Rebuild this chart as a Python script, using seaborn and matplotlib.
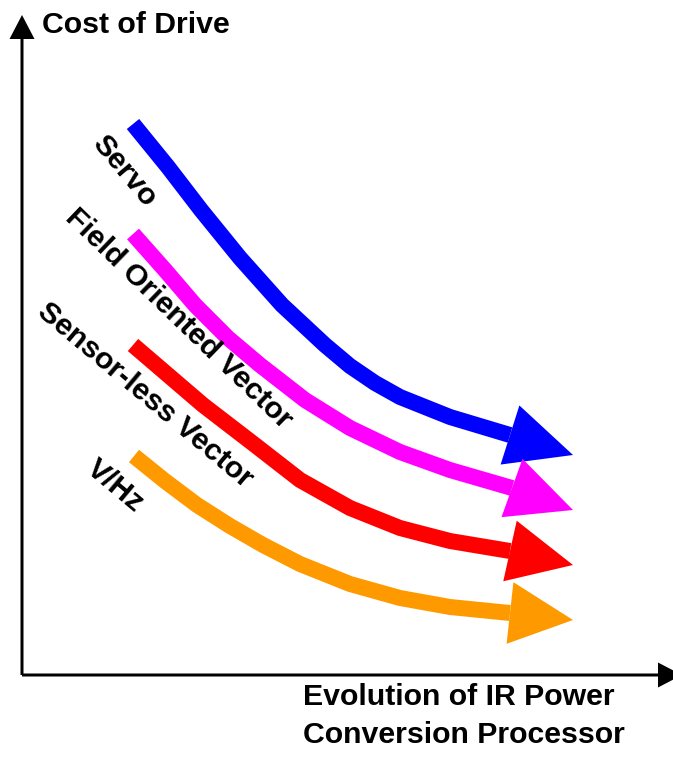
import numpy as np
import seaborn as sns
import matplotlib.pyplot as plt

# curve centre lines (units: pixels from the origin)
servo_x = [111, 146, 179, 218, 260, 303, 328, 353, 378, 428, 488]
servo_y = [551, 508, 465, 417, 370, 330, 309, 292, 278, 258, 240]
field_x = [111, 143, 173, 206, 238, 283, 328, 378, 428, 490]
field_y = [441, 405, 370, 337, 310, 275, 247, 223, 205, 187]
sensorless_x = [111, 146, 181, 233, 278, 328, 378, 428, 488]
sensorless_y = [330, 300, 270, 230, 195, 167, 147, 134, 124]
vhz_x = [112, 143, 175, 208, 241, 278, 328, 378, 428, 488]
vhz_y = [219, 194, 170, 149, 130, 111, 91, 77, 68, 62]

# arrow tips
tip_x = [551, 551, 551, 551]
tip_y = [220, 165, 110, 55]

names = ['Servo', 'Field Oriented Vector', 'Sensor-less Vector', 'V/Hz']
colors = ['#0000FF', '#FF00FF', '#FF0000', '#FF9900']
label_x = [102, 157, 123, 93]
label_y = [504, 356, 280, 189]
label_rot = [-50, -44, -40, -40]

xs = [servo_x, field_x, sensorless_x, vhz_x]
ys = [servo_y, field_y, sensorless_y, vhz_y]

sns.set_style('white')
plt.rcParams['font.family'] = ['Liberation Sans', 'DejaVu Sans']

fig = plt.figure(figsize=(6.73, 7.59), dpi=100)
ax = fig.add_axes([22 / 673, 84 / 759, 651 / 673, 663 / 759])
ax.set_xlim(0, 651)
ax.set_ylim(0, 663)
ax.axis('off')

for x, y, c, tx, ty in zip(xs, ys, colors, tip_x, tip_y):
    sns.lineplot(x=x, y=y, sort=False, estimator=None, color=c, linewidth=11.5,
                 ax=ax, solid_capstyle='butt', solid_joinstyle='round')
    dx = tx - x[-1]
    dy = ty - y[-1]
    ax.arrow(x[-1], y[-1], dx, dy, width=0, head_width=62,
             head_length=np.hypot(dx, dy), length_includes_head=True,
             color=c, lw=0)

for n, lx, ly, r in zip(names, label_x, label_y, label_rot):
    ax.text(lx, ly, n, rotation=r, ha='center', va='center',
            fontsize=21.8, fontweight='bold', color='black')

# axes with arrowheads
ax.arrow(0, 0, 0, 660, width=3, head_width=25, head_length=24,
         length_includes_head=True, color='black', lw=0, clip_on=False)
ax.arrow(0, 0, 660, 0, width=3, head_width=25, head_length=24,
         length_includes_head=True, color='black', lw=0, clip_on=False)

ax.text(20, 642, 'Cost of Drive', ha='left', va='baseline',
        fontsize=21.8, fontweight='bold', color='black')
ax.text(281, -30, 'Evolution of IR Power', ha='left', va='baseline',
        fontsize=21.8, fontweight='bold', color='black')
ax.text(281, -68, 'Conversion Processor', ha='left', va='baseline',
        fontsize=21.8, fontweight='bold', color='black')

fig.savefig('out.png', dpi=100)
